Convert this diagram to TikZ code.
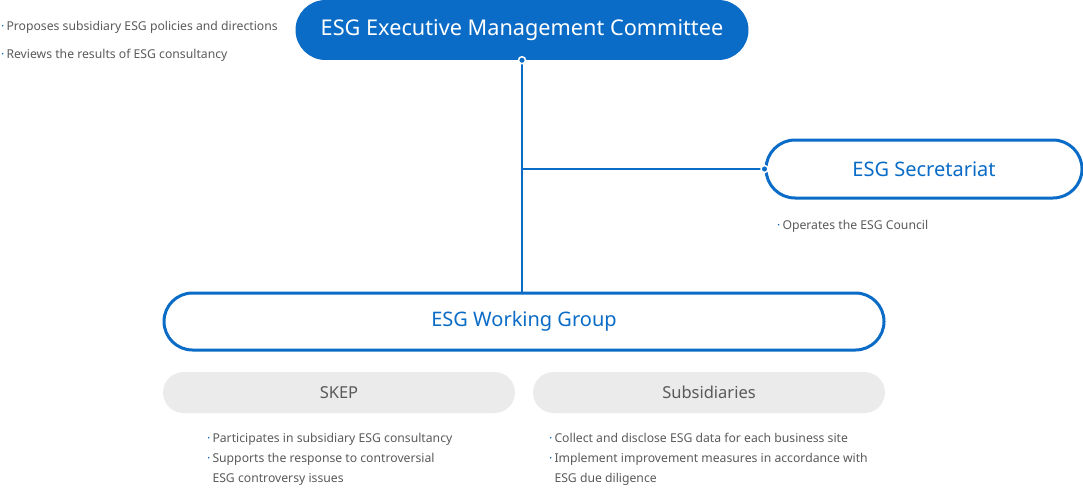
\documentclass[tikz,border=0pt]{standalone}
\usepackage{fontspec}
\setmainfont{Noto Sans}
\usetikzlibrary{shapes.misc, positioning, calc}
\definecolor{esgBlue}{HTML}{0A6CC6}
\definecolor{esgGray}{HTML}{EBEBEB}
\definecolor{esgText}{HTML}{5A5A5A}
\tikzset{
  pill/.style={rounded rectangle, inner sep=0pt, align=center},
  topbox/.style={pill, fill=esgBlue, text=white, minimum width=453pt, minimum height=60pt,
    font=\fontsize{21.7}{26}\selectfont},
  bluebox/.style={pill, draw=esgBlue, line width=3pt, fill=white, text=esgBlue,
    font=\fontsize{20}{24}\selectfont},
  graybox/.style={pill, fill=esgGray, text=esgText, minimum width=352pt, minimum height=41pt,
    font=\fontsize{16.5}{20}\selectfont},
  note/.style={anchor=north west, align=left, inner sep=0pt, text=esgText,
    font=\fontsize{12.2}{20}\selectfont},
  conn/.style={draw=esgBlue, line width=1.4pt},
  joint/.style={circle, fill=esgBlue, draw=white, line width=1.5pt, inner sep=0pt, minimum size=7pt}
}
\newcommand{\bul}{{\color{esgBlue}·}\,}
\begin{document}
\begin{tikzpicture}[x=1pt, y=-1pt]
  \useasboundingbox (0,0) rectangle (1083,487);
  % committee and secretariat
  \node[topbox] (cmt) at (522,30) {ESG Executive Management Committee};
  \node[bluebox, minimum width=316pt, minimum height=58pt] (sec) at (924,169) {ESG Secretariat};
  \node[bluebox, minimum width=720pt, minimum height=57pt] (wg) at (524,321.5) {ESG Working Group};
  \node[graybox] (skep) at (339,392.5) {SKEP};
  \node[graybox] (subs) at (709,392.5) {Subsidiaries};
  % connectors
  \draw[conn] (cmt.south) -- (cmt.south |- wg.north);
  \draw[conn] (sec.west) -- (sec.west -| cmt.south);
  \node[joint] at (cmt.south) {};
  \node[joint] at (sec.west) {};
  % notes
  \node[note, font=\fontsize{12.2}{28}\selectfont] (cmtnote) at (1,21) {\bul Proposes subsidiary ESG policies and directions\\ \bul Reviews the results of ESG consultancy};
  \node[note] (secnote) at (777,220) {\bul Operates the ESG Council};
  \node[note] (skepnote) at (207,433) {\bul Participates in subsidiary ESG consultancy\\ \bul Supports the response to controversial\\ \phantom{\bul}ESG controversy issues};
  \node[note] (subsnote) at (549,433) {\bul Collect and disclose ESG data for each business site\\ \bul Implement improvement measures in accordance with\\ \phantom{\bul}ESG due diligence};
\end{tikzpicture}
\end{document}
